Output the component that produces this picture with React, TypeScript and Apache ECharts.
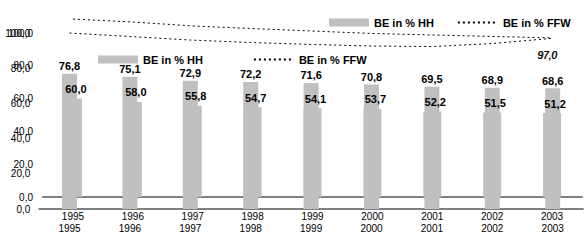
import React, { useEffect, useRef } from "react";
import * as echarts from "echarts";

const years = ["1995", "1996", "1997", "1998", "1999", "2000", "2001", "2002", "2003"];
const hhValues = [76.8, 75.1, 72.9, 72.2, 71.6, 70.8, 69.5, 68.9, 68.6];
const secondValues = [60.0, 58.0, 55.8, 54.7, 54.1, 53.7, 52.2, 51.5, 51.2];
const ffwLineUpper = [108.5, 106.7, 104.3, 102.7, 101.2, 99.7, 98.8, 97.9, 97.0];
const ffwLineLower = [100.0, 98.0, 96.0, 94.6, 93.5, 92.6, 92.3, 94.0, 97.0];
const yTicks = [0, 20, 40, 60, 80, 100];

const FONT = "'Liberation Sans Narrow', 'Arial Narrow', 'Liberation Sans', Arial, sans-serif";
const fmt = (v: number) => v.toFixed(1).replace(".", ",");
const CLEAR = "rgba(0,0,0,0)";

export default function App() {
  const ref = useRef<HTMLDivElement>(null);
  useEffect(() => {
    if (!ref.current) return;
    const chart = echarts.init(ref.current, null, { renderer: "svg" });
    const last = years.length - 1;
    const lineData = (arr: number[]) =>
      arr.map((v, i) =>
        i === last
          ? {
              value: v,
              label: {
                show: true,
                position: "bottom",
                distance: 12,
                offset: [-5, 0],
                formatter: (p: any) => fmt(p.value),
                color: "#000",
                fontFamily: FONT,
                fontSize: 10,
                fontStyle: "italic",
              },
            }
          : v
      );
    const yAxisBase = {
      type: "value",
      min: yTicks[0],
      max: yTicks[yTicks.length - 1],
      interval: 20,
      splitLine: { show: false },
      axisLine: { show: false },
      axisTick: { show: false },
    };
    const xAxisBase = {
      type: "category",
      data: years,
      axisTick: { show: false },
      axisLine: { show: true, lineStyle: { color: "#808080", width: 2 } },
      axisLabel: { color: "#000", fontFamily: FONT, fontSize: 10, margin: 14 },
    };
    const barLabel = {
      show: true,
      position: "top",
      color: "#000",
      fontFamily: FONT,
      fontSize: 11,
      fontWeight: "bold",
      formatter: (p: any) => fmt(p.value),
    };
    const legendText = { color: "#000", fontFamily: FONT, fontSize: 11, fontWeight: "bold" };
    const legendData = [
      { name: "BE in % HH", icon: "rect" },
      { name: "BE in % FFW", itemStyle: { color: CLEAR, borderWidth: 0 } },
    ];
    const lineSeries = (idx: number, arr: number[]) => ({
      name: "BE in % FFW",
      type: "line",
      xAxisIndex: idx,
      yAxisIndex: idx,
      symbol: "circle",
      symbolSize: 1,
      showAllSymbol: true,
      clip: false,
      itemStyle: { color: CLEAR, borderWidth: 0 },
      lineStyle: { color: "#000", width: 1, type: [2, 3] },
      data: lineData(arr),
    });
    chart.setOption({
      animation: false,
      backgroundColor: "#fff",
      textStyle: { fontFamily: FONT },
      grid: [
        { left: 43, top: 33, width: 539, height: 164 },
        { left: 39.3, top: 33, width: 543.6, height: 176 },
      ],
      legend: [
        {
          left: 324,
          top: 12,
          width: 264,
          itemWidth: 40,
          itemHeight: 8,
          itemGap: 23,
          textStyle: legendText,
          data: legendData,
        },
        {
          left: 93,
          top: 49,
          itemWidth: 40,
          itemHeight: 8,
          itemGap: 50,
          textStyle: legendText,
          data: legendData,
        },
      ],
      xAxis: [
        { ...xAxisBase, gridIndex: 0 },
        { ...xAxisBase, gridIndex: 1 },
      ],
      yAxis: [
        {
          ...yAxisBase,
          gridIndex: 0,
          axisLabel: { color: "#000", fontFamily: FONT, fontSize: 10, margin: 10, formatter: fmt },
        },
        {
          ...yAxisBase,
          gridIndex: 1,
          axisLabel: { color: "#000", fontFamily: FONT, fontSize: 10, margin: 9, formatter: fmt },
        },
      ],
      series: [
        {
          name: "BE in % HH",
          type: "bar",
          xAxisIndex: 0,
          yAxisIndex: 0,
          barWidth: 18,
          itemStyle: { color: "#c0c0c0" },
          label: { ...barLabel, distance: 4, offset: [3, 0] },
          data: secondValues,
        },
        {
          name: "BE in % HH",
          type: "bar",
          xAxisIndex: 1,
          yAxisIndex: 1,
          barWidth: 15,
          itemStyle: { color: "#c0c0c0" },
          label: { ...barLabel, distance: 2 },
          data: hhValues,
        },
        lineSeries(0, ffwLineUpper),
        lineSeries(1, ffwLineLower),
      ],
    });
    return () => chart.dispose();
  }, []);
  return (
    <div
      ref={ref}
      style={{ position: "fixed", left: 0, top: 0, width: 588, height: 247, background: "#fff" }}
    />
  );
}
